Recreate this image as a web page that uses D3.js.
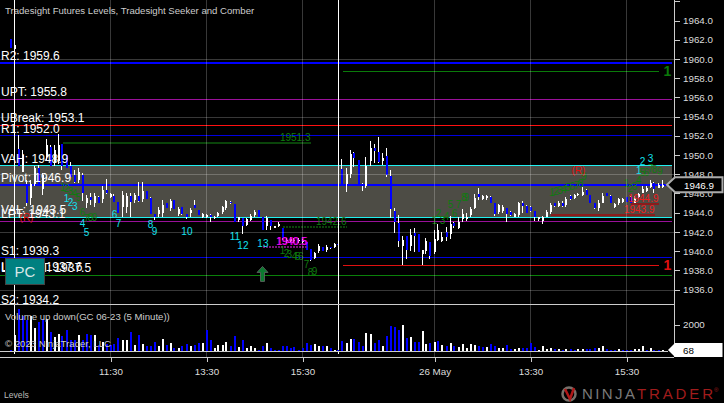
<!DOCTYPE html>
<html lang="en">
  <head>
    <meta charset="UTF-8">
    <title>Tradesight Futures Levels</title>
    <script src="https://cdn.jsdelivr.net/npm/d3@7"></script>
    <style>
      html, body { margin: 0; padding: 0; background: #000; }
      svg { display: block; font-family: "Liberation Sans", Arial, sans-serif; }
      svg line, svg rect { shape-rendering: crispEdges; }
    </style>
  </head>
  <body>
    <script>
      // open, high, low, close for each 5 minute bar
      const candles = [
        [1962.1,1962.1,1961.1,1961.1],[1961.0,1961.6,1961.0,1961.5],[1950.6,1952.1,1948.9,1948.9],[1948.2,1950.5,1948.2,1950.0],[1947.0,1947.4,1944.7,1945.0],
        [1945.5,1947.4,1944.8,1947.0],[1947.0,1948.9,1946.8,1948.6],[1948.6,1949.0,1946.8,1946.8],[1946.5,1948.1,1945.8,1947.9],[1949.8,1951.7,1949.5,1951.0],
        [1950.8,1951.0,1948.9,1948.9],[1949.2,1951.0,1948.9,1950.5],[1949.4,1952.2,1949.1,1951.0],[1951.2,1951.2,1948.4,1948.9],[1950.0,1950.0,1948.7,1948.7],
        [1948.9,1949.3,1947.7,1947.7],[1947.9,1948.4,1947.1,1947.2],[1947.4,1948.6,1947.1,1948.2],[1947.9,1948.1,1945.2,1946.0],[1945.0,1945.8,1944.5,1945.5],
        [1945.6,1946.0,1944.8,1945.3],[1945.0,1946.1,1944.6,1945.7],[1945.6,1945.7,1945.0,1945.0],[1945.4,1946.8,1945.0,1946.4],[1946.4,1947.5,1945.9,1946.0],
        [1945.6,1946.1,1945.5,1945.9],[1945.7,1945.9,1945.1,1945.1],[1945.1,1945.1,1944.0,1944.0],[1944.6,1946.3,1943.6,1945.8],[1944.6,1946.1,1944.0,1945.7],
        [1945.7,1946.1,1943.6,1945.1],[1945.3,1946.0,1945.0,1945.8],[1945.7,1947.2,1945.1,1945.2],[1945.4,1947.2,1945.1,1946.3],[1946.3,1946.3,1945.4,1945.4],
        [1945.5,1945.6,1943.9,1943.9],[1943.9,1943.9,1943.2,1943.6],[1943.9,1944.6,1943.6,1944.3],[1944.0,1945.3,1943.6,1944.8],[1945.0,1945.0,1944.5,1944.5],
        [1944.5,1945.4,1944.2,1945.2],[1945.3,1945.3,1944.4,1944.4],[1943.9,1944.6,1943.7,1944.4],[1944.6,1944.6,1943.8,1943.9],[1943.9,1943.9,1943.3,1943.5],
        [1944.0,1944.5,1943.6,1944.3],[1944.8,1945.3,1944.5,1944.5],[1944.3,1944.3,1943.8,1943.8],[1943.6,1944.0,1943.4,1943.9],[1943.6,1943.9,1943.4,1943.8],
        [1943.8,1943.9,1943.0,1943.5],[1943.4,1943.7,1943.3,1943.6],[1943.7,1944.1,1943.5,1944.0],[1944.1,1944.7,1943.9,1944.6],[1944.5,1945.3,1944.3,1945.2],
        [1945.1,1945.2,1944.9,1945.0],[1944.9,1944.9,1943.0,1943.0],[1943.2,1943.6,1943.0,1943.5],[1943.4,1943.4,1941.8,1942.6],[1942.7,1943.4,1942.6,1943.3],
        [1943.2,1943.9,1943.1,1943.7],[1943.8,1944.3,1943.5,1944.1],[1944.3,1944.3,1943.6,1943.6],[1943.5,1943.5,1942.2,1942.2],[1942.6,1943.7,1942.2,1943.4],
        [1943.2,1943.2,1942.2,1942.6],[1942.4,1942.6,1942.4,1942.6],[1942.6,1943.0,1942.5,1942.8],[1942.4,1942.4,1941.2,1941.4],[1941.0,1941.4,1940.8,1941.2],
        [1941.0,1941.5,1940.8,1941.3],[1941.0,1941.4,1940.8,1941.2],[1941.0,1941.4,1940.8,1941.2],[1940.9,1941.3,1940.8,1941.2],[1940.9,1940.9,1940.1,1940.1],
        [1940.2,1940.2,1939.0,1939.1],[1939.3,1939.9,1939.2,1939.8],[1940.0,1940.7,1939.8,1940.5],[1940.4,1940.4,1940.0,1940.0],[1940.1,1940.6,1939.9,1940.4],
        [1940.4,1940.4,1940.2,1940.3],[1940.4,1940.8,1940.3,1940.7],[1940.7,1940.7,1940.6,1940.6],[1948.5,1949.6,1947.0,1947.0],[1947.0,1948.7,1946.2,1948.0],
        [1948.0,1950.5,1947.6,1950.1],[1950.2,1950.3,1948.8,1949.7],[1949.5,1949.5,1947.0,1947.0],[1947.0,1947.1,1946.3,1946.8],[1946.8,1949.8,1946.6,1948.9],
        [1949.4,1951.5,1948.9,1950.7],[1950.7,1951.2,1949.2,1950.4],[1950.3,1951.9,1949.2,1949.3],[1949.4,1950.2,1949.0,1949.7],[1949.9,1950.7,1947.7,1947.9],
        [1947.8,1948.4,1943.4,1944.4],[1944.2,1944.5,1941.9,1943.0],[1942.9,1943.8,1940.4,1941.1],[1940.5,1941.6,1938.6,1941.2],[1941.6,1941.6,1939.2,1940.1],
        [1940.5,1942.3,1940.0,1941.7],[1941.9,1942.4,1939.9,1941.6],[1941.8,1941.8,1939.9,1939.9],[1939.7,1940.1,1938.4,1940.1],[1940.0,1941.4,1939.7,1941.1],
        [1940.9,1940.9,1939.2,1939.5],[1939.9,1942.2,1939.7,1941.3],[1941.2,1942.8,1941.1,1942.2],[1941.0,1942.0,1940.9,1941.5],[1942.0,1942.5,1941.1,1941.5],
        [1941.8,1943.7,1941.3,1942.8],[1942.9,1943.0,1942.4,1942.6],[1942.4,1943.6,1942.3,1943.0],[1943.3,1944.4,1943.0,1943.9],[1943.3,1944.0,1943.1,1943.6],
        [1943.8,1944.6,1943.6,1944.4],[1944.5,1945.9,1944.4,1945.5],[1945.9,1946.6,1945.3,1945.6],[1945.4,1945.8,1945.3,1945.7],[1945.5,1945.8,1945.3,1945.7],
        [1945.6,1945.7,1945.0,1945.0],[1945.0,1945.0,1943.7,1943.9],[1944.1,1944.9,1943.9,1944.8],[1944.2,1944.8,1944.0,1944.6],[1944.5,1944.5,1943.0,1943.9],
        [1944.1,1944.2,1943.7,1943.8],[1943.6,1944.0,1943.5,1943.9],[1943.8,1945.1,1943.6,1945.0],[1945.0,1945.2,1944.0,1944.7],[1944.7,1944.8,1944.0,1944.0],
        [1944.6,1944.7,1944.1,1944.2],[1944.2,1944.2,1943.1,1943.5],[1943.3,1943.6,1943.1,1943.5],[1943.1,1943.7,1942.8,1943.5],[1943.6,1944.3,1943.5,1944.1],
        [1944.1,1945.0,1943.9,1944.8],[1945.0,1945.0,1944.6,1944.7],[1944.7,1945.2,1944.6,1945.0],[1945.0,1945.2,1944.6,1944.7],[1944.8,1945.6,1944.6,1945.4],
        [1945.7,1945.8,1945.3,1945.4],[1945.5,1945.9,1945.4,1945.8],[1945.8,1946.0,1945.7,1945.9],[1945.8,1946.7,1945.7,1946.2],[1946.4,1946.5,1945.8,1945.8],
        [1945.8,1945.8,1945.0,1945.0],[1945.0,1945.0,1944.4,1944.5],[1944.5,1945.3,1944.2,1945.0],[1945.0,1946.0,1945.0,1945.7],[1946.0,1946.0,1945.7,1945.7],
        [1945.7,1945.8,1945.0,1945.0],[1944.6,1945.0,1944.5,1944.9],[1945.0,1945.5,1944.8,1945.4],[1945.1,1945.5,1945.0,1945.4],[1945.6,1945.6,1945.1,1945.1],
        [1945.6,1945.7,1945.0,1945.0],[1945.0,1945.7,1945.0,1945.5],[1945.6,1946.0,1945.5,1945.9],[1946.0,1946.8,1946.0,1946.5],[1946.3,1946.8,1946.2,1946.6],
        [1946.7,1947.4,1946.6,1947.1],[1947.1,1947.2,1946.1,1946.5],[1946.6,1947.1,1946.6,1946.9],[1946.7,1947.4,1946.6,1946.9]
      ];

      const volumes = [
        100,1200,3200,2630,2375,2630,1770,2170,2450,2450,
        1465,1060,1310,1110,1620,810,860,1190,860,1260,
        1240,1190,430,680,556,430,556,1010,810,810,
        1465,430,1190,505,400,400,710,350,885,430,
        580,200,200,350,505,350,430,580,580,1620,
        810,250,480,480,660,400,1110,280,810,200,
        350,200,100,350,580,200,100,100,350,350,
        200,280,50,200,580,430,505,350,350,350,
        200,50,50,730,580,885,885,710,350,1340,
        1260,580,810,350,1110,1870,1795,1570,1950,960,
        1035,660,660,1490,556,580,660,730,430,350,
        580,350,280,505,200,505,430,350,280,280,
        505,350,200,200,430,130,130,200,200,200,
        580,280,50,350,130,200,130,130,50,130,
        130,50,130,130,130,130,200,200,350,130,
        50,50,130,50,50,50,130,130,350,50,
        200,50,50,68
      ];
      // 1 = up volume, 0 = down volume
      const volumeUp = [
        0,1,0,0,0,1,1,0,0,1,
        0,1,1,0,0,0,0,1,0,0,
        0,1,0,1,0,0,0,0,1,1,
        0,1,0,1,0,0,0,1,1,0,
        1,0,1,0,0,1,0,0,1,0,
        0,1,1,1,1,0,0,1,0,1,
        1,1,0,0,1,0,0,0,0,0,
        0,0,0,0,0,0,1,1,0,1,
        0,1,0,0,1,1,0,0,0,1,
        1,0,0,1,0,0,0,0,1,0,
        1,0,0,1,1,0,1,0,1,0,
        1,0,1,1,1,1,1,0,0,1,
        0,0,1,1,0,0,1,1,0,0,
        0,0,1,1,1,1,0,1,0,1,
        0,0,1,1,0,0,0,1,1,0,
        0,0,1,0,0,0,1,1,1,0,
        1,0,0,1
      ];

      const levelNames = ["R2", "UPT", "UBreak", "R1", "VAH", "Pivot", "VAL", "LPT", "S1", "LBreak", "LowerPT", "S2"];
      const levelValues = [1959.6, 1955.8, 1953.1, 1952.0, 1948.9, 1946.9, 1943.5, 1943.1, 1939.3, 1937.6, 1937.5, 1934.2];

      const priceTicks = [1936, 1938, 1940, 1942, 1944, 1946, 1948, 1950, 1952, 1954, 1956, 1958, 1960, 1962, 1964];
      const priceGrid = [1936, 1942, 1948, 1954, 1960];
      const volumeTicks = [2000];
      const sessionBars = [1, 82];
      const timeBars = [25, 49, 73, 106, 130, 154];
      const timeLabels = ["11:30", "13:30", "15:30", "26 May", "13:30", "15:30"];

      // second session targets: start bar, end bar, price
      const greenTarget = [83, 162, 1958.7];
      const redTarget = [83, 162, 1938.5];

      // seeker / comber counts: label, bar, price
      const seekerCounts = [
        ["1",14,1945.5],["2",15,1945.1],["3",16.1,1944.7],["4",18,1942.9],["5",19,1942.0],["6",26,1943.9],["7",27,1942.9],
        ["8",35,1942.8],["9",36,1942.1],["10",44.1,1942.1],["11",56.1,1941.6],["12",58.1,1940.6],["13",63.1,1940.8],
        ["1",157.1,1948.4],["2",158,1949.4],["3",160,1949.7]
      ];
      const comberCounts = [
        ["1",13.1,1946.7],["2",14,1946.6],["3",15,1946.3],["4",16,1946],["5",17,1945.6],["6",18,1944.1],["7",19,1943.4],["8",20,1943.5],["9",21,1943.5],
        ["1",68,1940.1],["2",69,1939.8],["3",69.7,1939.7],["4",71,1939.5],["5",71.8,1939.5],["6",72.6,1939.5],["7",74,1938.7],["8",75,1937.8],["9",76,1937.9],
        ["1",106,1943.2],["2",107,1944],["3",108,1943.2],["4",109,1943.7],["5",110,1944.9],["6",111,1944],["7",112,1944.9],["8",113.4,1945.6],["9",114,1945.6],
        ["1",135.4,1946.2],["2",136.4,1946.3],["3",137.4,1946.4],["4",138.4,1946.5],["5",139.4,1946.7],["6",140.4,1946.8],["7",141.6,1946.9],["8",142.6,1947.1],["9",143.4,1947.8],
        ["1",154,1947.1],["2",155,1946.6],["3",156,1946.8],["4",157,1947.4],["5",158,1948.2],["6",159,1948.2],["7",160,1948.7],["8",161,1948.5],["9",162.4,1948.3]
      ];
      const reversalMarks = [[4, 1943.5], [142, 1948.4]];

      // comber levels: text, start bar, end bar, price
      const greenLevels = [["1951.3", 13, 75, 1951.25], ["1942.6", 68, 84, 1942.5]];
      const magentaLevels = [["1940.5", 63, 74, 1940.4]];
      const redLevels = [["1944.9", 155, 162, 1944.9], ["1943.9", 135, 161, 1943.8]];
      const arrowBar = 63;
      const arrowPrice = 1938.4;

      const lastPrice = 1946.9;
      const lastVolume = 68;

      const width = 724, height = 403;
      const plotRight = 674, priceBottom = 304, volumeBottom = 357;

      const x = d3.scaleLinear().domain([0, 163]).range([10.5, 662.5]);
      const y = d3.scaleLinear().domain([1936, 1964]).range([289.5, 20.6]);
      const yVol = d3.scaleLinear().domain([0, 2000]).range([351, 324.5]);
      const level = name => levelValues[levelNames.indexOf(name)];
      const crisp = v => Math.floor(v) + 0.5;

      const levelStyle = {
        R2: { color: "#0000ff", width: 2 },
        UPT: { color: "#9a109a", width: 1 },
        UBreak: { color: "#ff1010", width: 1 },
        R1: { color: "#0000e0", width: 1 },
        VAH: { color: "#20f0f0", width: 1 },
        Pivot: { color: "#0000ff", width: 2 },
        VAL: { color: "#20f0f0", width: 1 },
        LPT: { color: "#9a109a", width: 1 },
        S1: { color: "#0000e0", width: 1 },
        LBreak: null,
        LowerPT: { color: "#0a800a", width: 1 },
        S2: { color: "#0000e0", width: 1 }
      };

      const svg = d3.select("body").append("svg").attr("width", width).attr("height", height);
      svg.append("rect").attr("width", width).attr("height", height).attr("fill", "#000");

      svg.append("clipPath").attr("id", "price-clip").append("rect")
        .attr("width", plotRight - 2).attr("height", priceBottom);

      const price = svg.append("g").attr("clip-path", "url(#price-clip)");

      // value area band
      price.append("rect")
        .attr("x", 0).attr("width", plotRight - 2)
        .attr("y", y(level("VAH"))).attr("height", y(level("VAL")) - y(level("VAH")))
        .attr("fill", "#4d4c45");

      // grid
      svg.append("g").selectAll("line").data(priceGrid).join("line")
        .attr("x1", 0).attr("x2", plotRight)
        .attr("y1", d => Math.round(y(d)) + 0.5).attr("y2", d => Math.round(y(d)) + 0.5)
        .attr("stroke", "#fff").attr("stroke-opacity", 0.22);
      svg.append("g").selectAll("line").data(timeBars).join("line")
        .attr("x1", d => x(d)).attr("x2", d => x(d))
        .attr("y1", 0).attr("y2", volumeBottom)
        .attr("stroke", "#fff").attr("stroke-opacity", 0.22);

      // levels
      price.append("g").selectAll("line")
        .data(levelNames.filter(n => levelStyle[n]))
        .join("line")
        .attr("x1", 0).attr("x2", plotRight - 2)
        .attr("y1", d => crisp(y(level(d)))).attr("y2", d => crisp(y(level(d))))
        .attr("stroke", d => levelStyle[d].color)
        .attr("stroke-width", d => levelStyle[d].width);

      // candles
      const bars = price.append("g").selectAll("g").data(candles).join("g")
        .attr("fill", d => d[3] >= d[0] ? "#fff" : "#0000ff")
        .attr("stroke", "none");
      bars.append("rect")
        .attr("x", (d, i) => Math.round(x(i)) - 1).attr("width", 1)
        .attr("y", d => y(d[1])).attr("height", d => Math.max(1, y(d[2]) - y(d[1])))
        .attr("fill", "#fff");
      bars.append("rect")
        .attr("x", (d, i) => Math.round(x(i)) - 1).attr("width", 2)
        .attr("y", d => y(Math.max(d[0], d[3]))).attr("height", d => Math.max(1, Math.abs(y(d[0]) - y(d[3]))));

      // session breaks
      svg.append("g").selectAll("line").data(sessionBars).join("line")
        .attr("x1", d => x(d)).attr("x2", d => x(d))
        .attr("y1", 0).attr("y2", volumeBottom - 3)
        .attr("stroke", "#fff");

      // second session targets
      [[greenTarget, "#0a7a0a"], [redTarget, "#e01010"]].forEach(([t, color]) => {
        price.append("line")
          .attr("x1", x(t[0])).attr("x2", x(t[1]))
          .attr("y1", crisp(y(t[2]))).attr("y2", crisp(y(t[2])))
          .attr("stroke", color);
        price.append("text")
          .attr("x", x(t[1]) + 5).attr("y", y(t[2]) + 5)
          .attr("fill", color).attr("font-size", 14).attr("font-weight", "bold")
          .text("1");
      });

      // comber levels
      const drawComberLevel = (rows, lineColor, textColor, dash, thickness) => {
        rows.forEach(r => {
          price.append("line")
            .attr("x1", x(r[1])).attr("x2", x(r[2]))
            .attr("y1", y(r[3])).attr("y2", y(r[3]))
            .attr("stroke", lineColor).attr("stroke-width", thickness)
            .attr("stroke-dasharray", dash);
          price.append("text")
            .attr("x", x(r[2])).attr("y", y(r[3]) - 2)
            .attr("text-anchor", "end").attr("font-size", 10)
            .attr("fill", textColor)
            .text(r[0]);
        });
      };
      drawComberLevel(greenLevels.slice(0, 1), "#0a440a", "#0f7a0f", null, 2);
      drawComberLevel(greenLevels.slice(1), "#0a440a", "#0f7a0f", "2 1", 2);
      drawComberLevel(redLevels, "#8a1c1c", "#f01c1c", null, 2);
      drawComberLevel(magentaLevels, "#7a107a", "#ff00c0", "2 1", 2);
      price.append("text")
        .attr("x", x(magentaLevels[0][2]) + 1).attr("y", y(magentaLevels[0][3]) - 2)
        .attr("text-anchor", "end").attr("font-size", 10).attr("fill", "#e000ff")
        .text(magentaLevels[0][0]);

      // counts
      const drawCounts = (rows, color) => {
        price.append("g").selectAll("text").data(rows).join("text")
          .attr("x", d => x(d[1])).attr("y", d => y(d[2]) + 4)
          .attr("text-anchor", "middle").attr("font-size", 10)
          .attr("fill", color)
          .text(d => d[0]);
      };
      drawCounts(comberCounts, "#0f7a0f");
      drawCounts(seekerCounts, "#10e0f0");

      price.append("g").selectAll("text").data(reversalMarks).join("text")
        .attr("x", d => x(d[0])).attr("y", d => y(d[1]) + 4)
        .attr("text-anchor", "middle").attr("font-size", 10).attr("fill", "#e01010")
        .text("(R)");

      // long arrow
      price.append("path")
        .attr("transform", `translate(${x(arrowBar)},${y(arrowPrice)})`)
        .attr("d", "M0,0 L5.5,6 L2,6 L2,15 L-2,15 L-2,6 L-5.5,6 Z")
        .attr("fill", "#0c7a30").attr("stroke", "#666").attr("stroke-width", 0.8);

      // level labels
      svg.append("g").selectAll("text").data(levelNames).join("text")
        .attr("x", 1)
        .attr("y", d => y(level(d)) - 3)
        .attr("font-size", 12).attr("fill", "#fff")
        .text(d => `${d}: ${level(d).toFixed(1)}`);

      // volume panel
      svg.append("g").selectAll("rect").data(volumes).join("rect")
        .attr("x", (d, i) => Math.round(x(i)) - 1).attr("width", 2)
        .attr("y", d => yVol(d)).attr("height", d => yVol(0) - yVol(d))
        .attr("fill", (d, i) => volumeUp[i] ? "#fff" : "#0000ff");

      svg.append("line").attr("x1", 0).attr("x2", plotRight - 6)
        .attr("y1", yVol(0)).attr("y2", yVol(0)).attr("stroke", "#ccc");
      svg.append("line").attr("x1", 0).attr("x2", plotRight)
        .attr("y1", priceBottom + 0.5).attr("y2", priceBottom + 0.5).attr("stroke", "#ccc");

      // axes
      const styleAxis = g => {
        g.selectAll("path,line").attr("stroke", "#ccc");
        g.selectAll("text").attr("fill", "#ddd").attr("font-size", 9.8).attr("font-family", "Liberation Sans, Arial, sans-serif");
      };
      svg.append("g").attr("transform", `translate(${plotRight},0)`)
        .call(d3.axisRight(y).tickValues([...priceTicks, 1966]).tickFormat(d => d === 1966 ? "" : d.toFixed(1)).tickSize(6).tickPadding(3).tickSizeOuter(0))
        .call(g => g.select("path").attr("d", `M0.5,0V${volumeBottom}`))
        .call(styleAxis);
      svg.append("g").attr("transform", `translate(${plotRight},0)`)
        .call(d3.axisRight(yVol).tickValues(volumeTicks).tickFormat(d3.format("d")).tickSize(6).tickPadding(3))
        .call(g => g.select("path").remove())
        .call(styleAxis);
      svg.append("g").attr("transform", `translate(0,${volumeBottom})`)
        .call(d3.axisBottom(x).tickValues(timeBars).tickFormat((d, i) => timeLabels[i]).tickSize(5).tickPadding(6))
        .call(g => g.select("path").attr("d", `M0,0.5H${plotRight}`))
        .call(styleAxis);

      // last price / last volume flags
      const flagPath = (tip, top, bottom) => `M${tip},${(top + bottom) / 2} L${plotRight + 1},${top} H722.5 V${bottom} H${plotRight + 1} Z`;
      const lastY = y(lastPrice);
      svg.append("path").attr("d", flagPath(667, lastY - 7.5, lastY + 7.5))
        .attr("fill", "#000").attr("stroke", "#aaa").attr("stroke-width", 2);
      svg.append("text").attr("x", 684).attr("y", lastY + 4).attr("font-size", 9.8).attr("fill", "#fff").text(lastPrice.toFixed(1));
      const lastVolY = yVol(lastVolume);
      svg.append("path").attr("d", flagPath(668, lastVolY - 7, lastVolY + 7)).attr("fill", "#fff");
      svg.append("text").attr("x", 683).attr("y", lastVolY + 4).attr("font-size", 9.8).attr("fill", "#000").text(lastVolume);

      // captions
      const caption = (text, px, py, size, color) => svg.append("text")
        .attr("x", px).attr("y", py).attr("font-size", size).attr("fill", color).text(text);
      caption("Tradesight Futures Levels, Tradesight Seeker and Comber", 5, 14, 9.6, "#ccc");
      caption("Volume up down(GC 06-23 (5 Minute))", 5, 320, 9.6, "#ccc");
      caption("\u00a9 2023 NinjaTrader, LLC", 5, 347, 9.6, "#ccc");
      caption("Levels", 4, 398, 8.6, "#bbb");

      // PC button
      svg.append("rect").attr("x", 5.5).attr("y", 258.5).attr("width", 39).attr("height", 26)
        .attr("fill", "#008080").attr("stroke", "#444");
      svg.append("text").attr("x", 25).attr("y", 277).attr("text-anchor", "middle")
        .attr("font-size", 15).attr("fill", "#d8e8e8").text("PC");

      // NinjaTrader logo
      const logo = svg.append("g");
      logo.append("circle").attr("cx", 569).attr("cy", 394).attr("r", 6.5)
        .attr("fill", "none").attr("stroke", "#77706a").attr("stroke-width", 2.5);
      logo.append("path").attr("d", "M565,389 L570,399 L574,388").attr("fill", "none")
        .attr("stroke", "#b01818").attr("stroke-width", 2.5);
      logo.append("text").attr("x", 582).attr("y", 399).attr("font-size", 15)
        .attr("textLength", 53).attr("fill", "#7a7a7a").text("NINJA");
      logo.append("text").attr("x", 637).attr("y", 399).attr("font-size", 15)
        .attr("textLength", 76).attr("fill", "#a01c1c").text("TRADER");
      logo.append("text").attr("x", 714).attr("y", 392).attr("font-size", 6)
        .attr("fill", "#a01c1c").text("\u00ae");
    </script>
  </body>
</html>
